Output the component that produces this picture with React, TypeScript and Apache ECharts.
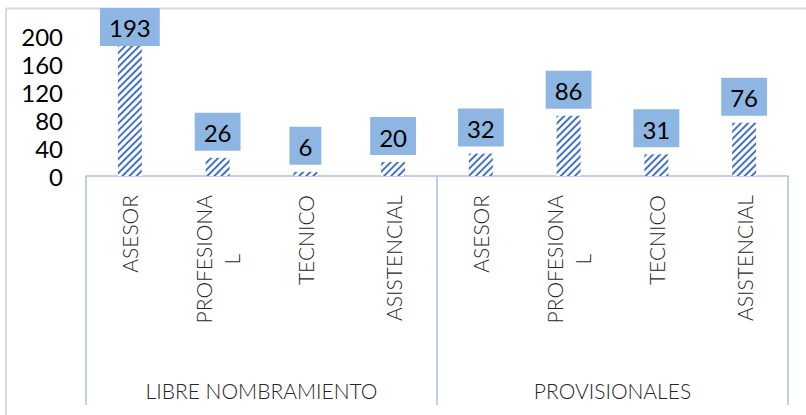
import React, { useEffect, useRef } from 'react';
import * as echarts from 'echarts';

const categories = ['ASESOR', 'PROFESIONAL', 'TECNICO', 'ASISTENCIAL', 'ASESOR', 'PROFESIONAL', 'TECNICO', 'ASISTENCIAL'];
const groups = ['LIBRE NOMBRAMIENTO', 'PROVISIONALES'];
const values = [193, 26, 6, 20, 32, 86, 31, 76];
const yMin = 0;
const yMax = 200;
const yInterval = 40;

const FONT = 'Lato';
const WEIGHT = 300;
const BOX_LINE = '#A9C1E3';

export default function App() {
  const ref = useRef<HTMLDivElement>(null);

  useEffect(() => {
    document.body.style.margin = '0';
    if (!ref.current) return;
    const chart = echarts.init(ref.current, null, { renderer: 'svg' });

    const seriesData = values.map((v) =>
      v === Math.max(...values) ? { value: v, label: { distance: -5 } } : v
    );

    const txt = { fontFamily: FONT, fontWeight: WEIGHT, fontSize: 21, color: '#262626', lineHeight: 28 };

    chart.setOption({
      animation: false,
      backgroundColor: '#ffffff',
      grid: { left: 86, right: 18, top: 36, bottom: 239, containLabel: false },
      xAxis: [
        {
          type: 'category',
          data: categories,
          position: 'bottom',
          axisLine: { show: true, lineStyle: { color: BOX_LINE, width: 1.5 } },
          axisTick: { show: false },
          axisLabel: {
            interval: 0,
            rotate: 90,
            margin: 19,
            ...txt,
            formatter: (v: string) => (v === 'PROFESIONAL' ? '{a|PROFESIONA}\n{c|L}' : v),
            rich: {
              a: { ...txt },
              c: { ...txt, align: 'center' },
            },
          },
        },
        {
          type: 'category',
          data: groups,
          position: 'bottom',
          gridIndex: 0,
          axisLine: { show: false },
          axisTick: { show: true, length: 229, lineStyle: { color: BOX_LINE, width: 1.5 } },
          axisLabel: {
            interval: 0,
            margin: 204,
            fontFamily: FONT,
            fontWeight: WEIGHT,
            fontSize: 21,
            color: '#262626',
          },
        },
      ],
      yAxis: {
        type: 'value',
        min: yMin,
        max: yMax,
        interval: yInterval,
        axisLine: { show: false },
        axisTick: { show: false },
        splitLine: { show: false },
        axisLabel: { margin: 23, fontFamily: FONT, fontWeight: 400, fontSize: 24, color: '#000' },
      },
      graphic: [
        { type: 'line', shape: { x1: 6, y1: 8.5, x2: 806, y2: 8.5 }, style: { stroke: '#D9D9D9', lineWidth: 2 }, silent: true },
        { type: 'line', shape: { x1: 6, y1: 8, x2: 6, y2: 415 }, style: { stroke: '#D9D9D9', lineWidth: 2 }, silent: true },
      ],
      series: [
        {
          type: 'bar',
          xAxisIndex: 0,
          data: seriesData,
          barWidth: 24,
          itemStyle: {
            color: '#ffffff',
            decal: {
              symbol: 'rect',
              symbolSize: 1,
              dashArrayX: [1, 0],
              dashArrayY: [1.4, 2.4],
              rotation: -Math.PI / 4,
              color: '#4472C4',
            },
          },
          label: {
            show: true,
            position: 'top',
            distance: 7,
            fontFamily: FONT,
            fontWeight: 400,
            fontSize: 24,
            color: '#000',
            backgroundColor: '#8DB7E2',
            padding: [8, 9, 6, 9],
          },
        },
      ],
    });

    return () => chart.dispose();
  }, []);

  return <div ref={ref} style={{ width: 806, height: 415 }} />;
}
